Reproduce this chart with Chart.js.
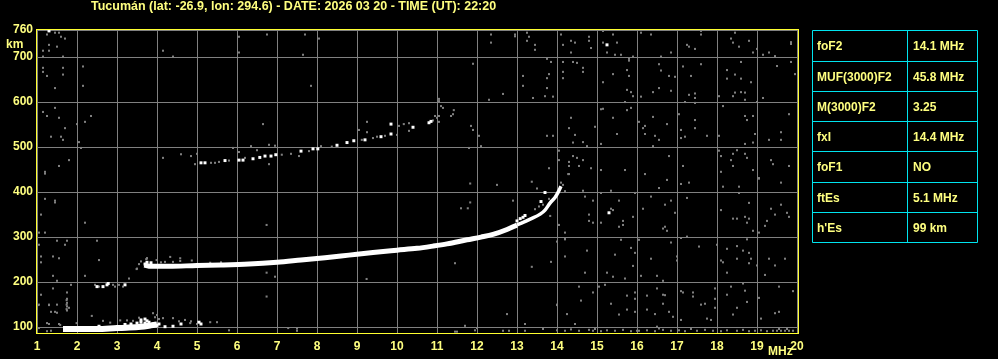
<!DOCTYPE html>
<html>
<head>
<meta charset="utf-8">
<script src="https://cdn.jsdelivr.net/npm/chart.js@4.4.1/dist/chart.umd.min.js"></script>
<style>
  html, body { margin: 0; padding: 0; background: #000; }
  #wrap { width: 998px; height: 359px; }
</style>
</head>
<body>
<div id="wrap"><canvas id="iono" width="998" height="359"></canvas></div>
<script>
// Ionogram - Tucumán, 2026-03-20 22:20 UT
const titleText = 'Tucumán (lat: -26.9, lon: 294.6) - DATE: 2026 03 20 - TIME (UT): 22:20';
const freqTicks = [1, 2, 3, 4, 5, 6, 7, 8, 9, 10, 11, 12, 13, 14, 15, 16, 17, 18, 19, 20];
const heightTicks = [100, 200, 300, 400, 500, 600, 700, 760];

const paramNames = ['foF2', 'MUF(3000)F2', 'M(3000)F2', 'fxI', 'foF1', 'ftEs', "h'Es"];
const paramValues = ['14.1 MHz', '45.8 MHz', '3.25', '14.4 MHz', 'NO', '5.1 MHz', '99 km'];

// F2 trace [MHz, km]
const fTrace = [
    [3.68, 238], [3.85, 235], [4.3, 235], [5.0, 237], [5.6, 238], [6.3, 240], [7.0, 244],
    [7.6, 249], [8.2, 254], [8.8, 260], [9.4, 266], [10.0, 271], [10.5, 275], [10.9, 280],
    [11.25, 285], [11.75, 294], [12.1, 300], [12.4, 306], [12.75, 317], [13.0, 327]
];
const fTraceTail = [
    [13.0, 327], [13.33, 340], [13.58, 351], [13.7, 360], [13.83, 376], [13.95, 388],
    [14.03, 400], [14.1, 413]
];
// sporadic E trace
const esTrace = [
    [1.65, 96], [2.0, 96], [2.5, 96], [3.0, 98], [3.3, 99], [3.6, 101], [3.85, 104], [4.0, 106]
];

// strong echoes (white)
const whiteEchoes = [
    [1.3, 758], [15.25, 727], [15.3, 354],
    [2.5, 190], [2.65, 190], [2.75, 194], [2.78, 197], [3.2, 194],
    [3.75, 244], [3.85, 243], [3.7, 240],
    [3.2, 106], [3.35, 107], [3.5, 109], [3.6, 111], [3.7, 109], [3.8, 111], [3.9, 107],
    [3.6, 116], [3.7, 118], [3.75, 114], [4.05, 107], [4.0, 104], [4.2, 101], [4.4, 102],
    [4.6, 107], [5.05, 111], [5.1, 107], [2.55, 102], [1.7, 99],
    [13.0, 336], [13.08, 341], [13.15, 344], [13.2, 348], [13.6, 379], [13.7, 399],
    [5.1, 465], [5.2, 465], [5.7, 470], [6.05, 471], [6.15, 471], [6.4, 474], [6.57, 477],
    [6.7, 480], [6.85, 480], [6.97, 483], [7.6, 491], [7.9, 496], [8.02, 496], [8.5, 504],
    [8.75, 510], [8.92, 514], [9.2, 516], [9.6, 523], [9.85, 529], [9.85, 551], [10.4, 544],
    [10.8, 554], [10.85, 557]
];

// weak echoes and noise (grey)
const greyEchoes = [
    // upper left
    [1.25, 750], [1.45, 754], [1.55, 754], [1.6, 745], [1.7, 741], [1.3, 727], [1.5, 723],
    [1.15, 714], [1.3, 714], [1.65, 701], [1.15, 701], [1.15, 676], [1.15, 667], [1.25, 658],
    [1.65, 676], [1.65, 661], [2.15, 679], [2.15, 636], [1.45, 631], [4.15, 714], [4.4, 701],
    [6.05, 745], [6.05, 710], [6.75, 750], [1.45, 587], [1.15, 578], [1.25, 569], [1.55, 565],
    [1.7, 542], [1.35, 523], [1.6, 523], [1.65, 516], [2.0, 551], [2.2, 556], [2.35, 569],
    [2.05, 511], [2.1, 498], [1.8, 471], [1.55, 458], [1.2, 445], [1.2, 441],
    [4.15, 476], [4.6, 484], [4.85, 480], [5.0, 485],
    // 2F trace surroundings
    [4.95, 462], [5.35, 465], [5.45, 465], [5.55, 467], [5.8, 470], [6.2, 476], [6.5, 493],
    [7.12, 483], [6.8, 505], [6.95, 503], [6.35, 502], [6.05, 489], [5.9, 498], [6.65, 551],
    [6.8, 462], [7.35, 485], [7.55, 480], [7.8, 491], [8.1, 502], [8.37, 501], [9.12, 516],
    [9.25, 556], [9.25, 533], [9.05, 538], [9.4, 520], [9.5, 523], [9.7, 525], [10.0, 527],
    [10.05, 547], [10.17, 551], [10.3, 553], [10.3, 536], [10.9, 559], [11.0, 565],
    [11.05, 556], [10.95, 569], [11.05, 569], [11.05, 607], [11.05, 602], [11.1, 591],
    [11.15, 587], [11.35, 569], [11.4, 573], [11.42, 582], [11.85, 547], [11.9, 538],
    [12.05, 525], [12.1, 502], [11.8, 498],
    [7.7, 750], [8.05, 741], [7.65, 705], [7.85, 636], [11.9, 685], [12.3, 605], [12.65, 618],
    [13.15, 658], [13.15, 636], [13.4, 609], [13.7, 613], [13.9, 612], [13.75, 631],
    [13.8, 662], [13.75, 653], [13.85, 689], [13.75, 696], [12.35, 750], [12.35, 732],
    [12.95, 750], [12.95, 746], [13.25, 754], [13.3, 745], [13.25, 736], [13.45, 727],
    [13.45, 716], [13.75, 525], [13.9, 525], [13.8, 453],
    // upper right
    [14.1, 750], [14.35, 736], [14.15, 727], [14.45, 732], [14.35, 710], [14.8, 745],
    [14.8, 736], [14.85, 720], [15.15, 758], [15.4, 750], [15.15, 732], [15.5, 732],
    [15.25, 710], [15.45, 705], [15.6, 705], [15.8, 696], [15.9, 701], [16.1, 754],
    [16.35, 750], [16.6, 701], [16.85, 710], [17.25, 727], [17.3, 723], [17.45, 718],
    [17.6, 758], [17.6, 750], [18.45, 754], [18.35, 741], [18.4, 732], [18.55, 723],
    [18.8, 736], [18.9, 710], [19.0, 718], [19.15, 705], [19.3, 710], [19.45, 702],
    [19.85, 733], [19.85, 729],
    [14.15, 689], [14.4, 689], [14.5, 687], [14.15, 667], [14.15, 653], [14.65, 676],
    [14.65, 667], [15.15, 644], [15.4, 662], [15.75, 671], [15.8, 658], [15.75, 627],
    [15.85, 622], [15.9, 613], [15.7, 600], [15.8, 692], [16.55, 684], [16.6, 670],
    [16.8, 658], [16.95, 656], [16.55, 631], [16.4, 622], [16.1, 612], [16.85, 625],
    [17.15, 679], [17.35, 658], [17.6, 684], [17.3, 616], [17.45, 619], [17.45, 609],
    [17.45, 598], [17.2, 600], [18.25, 671], [18.45, 661], [18.25, 652], [18.6, 652],
    [18.85, 644], [18.6, 689], [18.05, 613], [18.4, 613], [18.45, 621], [18.6, 622],
    [18.7, 621], [18.7, 605], [19.15, 609], [19.0, 600], [19.5, 680], [19.85, 689],
    [19.95, 662],
    [15.1, 584], [15.15, 585], [15.75, 582], [15.85, 587], [15.4, 565], [14.35, 565],
    [14.3, 542], [14.45, 527], [14.95, 545], [14.4, 510], [14.65, 511], [14.75, 502],
    [15.1, 507], [15.5, 529], [16.05, 556], [16.2, 547], [16.15, 542], [16.4, 567],
    [16.2, 529], [16.45, 525], [16.55, 516], [16.4, 502], [16.75, 551], [17.05, 573],
    [17.1, 538], [17.1, 520], [17.2, 523], [17.45, 560], [17.45, 542], [17.75, 525],
    [18.05, 525], [18.15, 591], [18.7, 569], [18.75, 560], [18.9, 569], [18.95, 529],
    [18.7, 507], [18.9, 510], [19.3, 516], [19.6, 533], [19.6, 516], [19.8, 573],
    [14.05, 492], [14.05, 471], [14.3, 467], [14.4, 480], [14.5, 476], [14.65, 471],
    [14.3, 458], [14.55, 458], [14.3, 440], [14.85, 453], [15.1, 449], [15.7, 449],
    [16.2, 440], [16.8, 480], [17.15, 458], [18.05, 492], [18.1, 480], [18.35, 471],
    [18.4, 485], [18.5, 493], [18.7, 485], [18.75, 476], [18.4, 458], [18.1, 445],
    [18.9, 449], [19.35, 471], [19.4, 462], [19.8, 458], [19.05, 431],
    // lower right
    [15.35, 363], [15.4, 360], [15.55, 381], [15.65, 336], [15.65, 327], [15.55, 323],
    [15.9, 345], [15.1, 332], [14.9, 381], [14.7, 390], [14.8, 350], [14.8, 336],
    [14.9, 332], [14.05, 327], [14.2, 310], [14.1, 421], [14.15, 416], [14.05, 403],
    [14.65, 403], [15.1, 398], [15.35, 403], [15.95, 398], [16.15, 363], [16.35, 390],
    [16.7, 372], [16.85, 381], [16.95, 354], [16.7, 323], [16.65, 319], [16.75, 314],
    [16.55, 409], [16.75, 427], [17.1, 418], [17.3, 421], [17.25, 387], [18.15, 412],
    [18.55, 412], [18.55, 398], [19.05, 430], [19.6, 421], [18.8, 376], [18.1, 360],
    [18.4, 341], [18.5, 341], [18.7, 345], [18.8, 341], [18.75, 332], [18.9, 314],
    [19.05, 310], [19.25, 336], [19.35, 363], [19.6, 372], [19.75, 354], [19.8, 345],
    [19.2, 325], [19.45, 350],
    [14.2, 297], [14.75, 270], [14.2, 257], [14.7, 221], [15.25, 221], [15.45, 261],
    [15.4, 212], [15.7, 208], [15.85, 276], [15.95, 265], [15.9, 236], [15.6, 294],
    [16.05, 294], [16.1, 214], [16.35, 252], [16.5, 214], [16.65, 203], [16.85, 288],
    [17.0, 257], [17.0, 248], [17.1, 298], [17.25, 301], [17.55, 279], [18.0, 283],
    [18.25, 274], [18.1, 248], [18.15, 244], [18.5, 280], [18.5, 252], [18.65, 270],
    [18.8, 265], [18.85, 252], [18.8, 242], [19.0, 237], [18.75, 295], [19.3, 252],
    [19.45, 237], [19.7, 252], [19.2, 216], [18.25, 221],
    [14.55, 190], [14.9, 177], [15.05, 190], [15.2, 194], [14.6, 159], [14.25, 129],
    [14.45, 107], [15.35, 152], [15.55, 128], [15.75, 170], [15.95, 177], [15.95, 163],
    [15.75, 139], [15.95, 134], [16.25, 170], [16.25, 139], [16.45, 129], [16.5, 186],
    [16.65, 172], [16.7, 171], [16.65, 152], [16.8, 134], [16.9, 123], [17.1, 180],
    [17.15, 177], [17.4, 177], [17.4, 168], [17.1, 116], [17.6, 150], [17.7, 152],
    [17.75, 119], [17.85, 116], [17.95, 186], [17.95, 163], [17.95, 143], [18.25, 172],
    [18.35, 190], [18.4, 128], [18.5, 143], [18.7, 181], [18.75, 156], [18.65, 197],
    [19.05, 165], [19.1, 119], [19.45, 131], [19.55, 190], [19.55, 134], [19.9, 180],
    [14.0, 150], [14.0, 149], [12.75, 129], [13.2, 107],
    // around the F trace
    [11.83, 419], [12.5, 416], [11.83, 377], [11.6, 364], [11.77, 364], [12.9, 381],
    [13.37, 423], [13.5, 408], [14.28, 440], [14.2, 402], [13.83, 347], [14.03, 327],
    [14.0, 290], [14.2, 295], [13.85, 245], [11.45, 242], [13.37, 234],
    [13.45, 362], [13.55, 368], [13.65, 372], [13.8, 385],
    [6.74, 327], [6.74, 221], [6.95, 212], [6.74, 168], [9.24, 207],
    [3.49, 229], [3.73, 251], [3.99, 249], [4.33, 256], [4.58, 253], [4.58, 247],
    [4.87, 248], [5.33, 243], [3.3, 208], [3.5, 230], [3.75, 253], [3.6, 246], [4.1, 244],
    [4.2, 245], [4.4, 245], [5.6, 244], [3.55, 240],
    [2.45, 194], [2.55, 190], [2.9, 194], [2.95, 190], [3.15, 190], [3.05, 194],
    // lower left
    [1.2, 385], [1.45, 381], [1.45, 377], [1.1, 350], [2.2, 332], [1.05, 310], [1.2, 310],
    [1.5, 292], [1.75, 292], [1.7, 283], [2.5, 292], [1.05, 283], [1.1, 257], [1.4, 257],
    [1.55, 253], [1.1, 244], [2.55, 249], [3.75, 253], [1.4, 214], [2.2, 214], [1.5, 203],
    [1.85, 194], [1.1, 172], [1.75, 177], [1.75, 163], [1.75, 154], [1.75, 146],
    [1.75, 137], [1.8, 143], [1.4, 186], [1.3, 150], [1.5, 150], [1.35, 134], [1.5, 132],
    [1.05, 150], [1.3, 107], [1.55, 107], [1.05, 98], [1.35, 92], [1.03, 149], [1.3, 149],
    [1.45, 134], [1.74, 160], [1.74, 150], [1.74, 140],
    // sporadic E surroundings
    [2.37, 125], [1.99, 109], [1.58, 105], [1.25, 109], [1.25, 91], [2.65, 114],
    [2.83, 110], [3.08, 115], [3.25, 115], [3.4, 114], [3.9, 131], [4.0, 127], [4.15, 120],
    [4.4, 120], [4.55, 113], [4.7, 116], [4.83, 109], [4.85, 113], [5.0, 107],
    [5.33, 111], [5.5, 111], [3.95, 122], [4.05, 118], [3.55, 121],
    // bottom row
    [5.8, 93], [7.28, 98], [7.5, 97], [7.5, 92], [11.45, 90], [11.5, 90], [11.7, 103],
    [11.95, 93], [12.65, 92], [12.8, 92], [13.2, 92], [14.0, 93], [14.2, 92], [14.45, 107],
    [14.55, 92], [14.8, 94], [14.9, 92], [14.95, 96], [15.1, 91], [15.25, 93], [15.45, 92],
    [15.65, 94], [15.85, 91], [16.0, 92], [16.05, 92], [16.25, 93], [16.45, 91],
    [16.65, 94], [16.85, 92], [17.05, 93], [17.2, 91], [17.5, 92], [17.7, 94], [17.9, 92],
    [18.1, 91], [18.25, 93], [18.5, 92], [18.65, 94], [18.8, 91], [18.95, 92], [19.1, 93],
    [19.25, 91], [19.4, 92], [19.5, 92], [19.6, 92], [19.7, 92], [19.8, 92], [19.9, 92],
    [19.55, 96], [19.75, 96], [12.0, 98], [13.65, 96], [14.35, 95], [17.35, 96], [16.5, 101],
    [16.55, 97]
];

const yellow = '#ffff80';
const txtFont = "bold 12px 'Liberation Sans', Arial, sans-serif";

const toXY = arr => arr.map(p => ({ x: p[0], y: p[1] }));

const ionoDecor = {
    id: 'ionoDecor',
    afterDraw(chart) {
        const { ctx, chartArea: a } = chart;
        ctx.save();
        // plot frame
        ctx.strokeStyle = '#ffff30';
        ctx.lineWidth = 1;
        ctx.strokeRect(a.left - 0.5, a.top - 0.5, a.right - a.left + 2, a.bottom - a.top + 1);

        ctx.fillStyle = yellow;
        ctx.textBaseline = 'middle';
        ctx.textAlign = 'left';
        ctx.font = "bold 12.5px 'Liberation Sans', Arial, sans-serif";
        ctx.fillText(titleText, 91, 7);
        ctx.font = txtFont;
        ctx.fillText('km', 6, 45);
        ctx.fillText('MHz', 768, 352);

        // parameter table
        const x0 = 812.5, x1 = 907.5, x2 = 977.5;
        const rowY = [30.5, 61.5, 91.5, 121.5, 151.5, 182.5, 212.5, 242.5];
        ctx.strokeStyle = '#00e4ee';
        ctx.beginPath();
        rowY.forEach(y => { ctx.moveTo(x0, y); ctx.lineTo(x2, y); });
        [x0, x1, x2].forEach(x => { ctx.moveTo(x, rowY[0]); ctx.lineTo(x, rowY[rowY.length - 1]); });
        ctx.stroke();
        paramNames.forEach((name, i) => {
            const yc = (rowY[i] + rowY[i + 1]) / 2 + 1;
            ctx.fillText(name, 817, yc);
            ctx.fillText(paramValues[i], 913, yc);
        });
        ctx.restore();
    }
};

new Chart(document.getElementById('iono'), {
    type: 'scatter',
    data: {
        datasets: [
            {
                label: 'strong',
                data: toXY(whiteEchoes),
                pointStyle: 'rect',
                pointRadius: 2.1,
                pointBorderWidth: 0,
                backgroundColor: '#ffffff',
            },
            {
                label: 'F2',
                data: toXY(fTrace),
                showLine: true,
                borderColor: '#ffffff',
                borderWidth: 5,
                pointRadius: 0,
                cubicInterpolationMode: 'monotone',
            },
            {
                label: 'F2 tail',
                data: toXY(fTraceTail),
                showLine: true,
                borderColor: '#ffffff',
                borderWidth: 3.5,
                pointRadius: 0,
                cubicInterpolationMode: 'monotone',
            },
            {
                label: 'Es',
                data: toXY(esTrace),
                showLine: true,
                borderColor: '#ffffff',
                borderWidth: 6,
                pointRadius: 0,
                cubicInterpolationMode: 'monotone',
            },
            {
                label: 'weak',
                data: toXY(greyEchoes),
                pointStyle: 'rect',
                pointRadius: 1.45,
                pointBorderWidth: 0,
                backgroundColor: '#808080',
            }
        ]
    },
    options: {
        animation: false,
        responsive: false,
        events: [],
        layout: { padding: { left: 1, right: 201, top: 30, bottom: 0 } },
        plugins: {
            legend: { display: false },
            tooltip: { enabled: false },
        },
        scales: {
            x: {
                type: 'linear',
                min: 1,
                max: 20,
                afterBuildTicks: s => { s.ticks = freqTicks.map(v => ({ value: v })); },
                afterFit: s => { s.height = 26; },
                grid: { color: '#808080', lineWidth: 1, drawTicks: false },
                border: { display: false },
                ticks: {
                    color: yellow,
                    autoSkip: false,
                    maxRotation: 0,
                    padding: 6,
                    font: { family: "'Liberation Sans', Arial, sans-serif", size: 12, weight: 'bold' },
                },
            },
            y: {
                type: 'linear',
                min: 87,
                max: 760,
                afterBuildTicks: s => { s.ticks = heightTicks.map(v => ({ value: v })); },
                afterFit: s => { s.width = 36; },
                grid: { color: '#808080', lineWidth: 1, drawTicks: false },
                border: { display: false },
                ticks: {
                    color: yellow,
                    autoSkip: false,
                    padding: 4,
                    font: { family: "'Liberation Sans', Arial, sans-serif", size: 12, weight: 'bold' },
                },
            },
        },
    },
    plugins: [ionoDecor],
});
</script>
</body>
</html>
